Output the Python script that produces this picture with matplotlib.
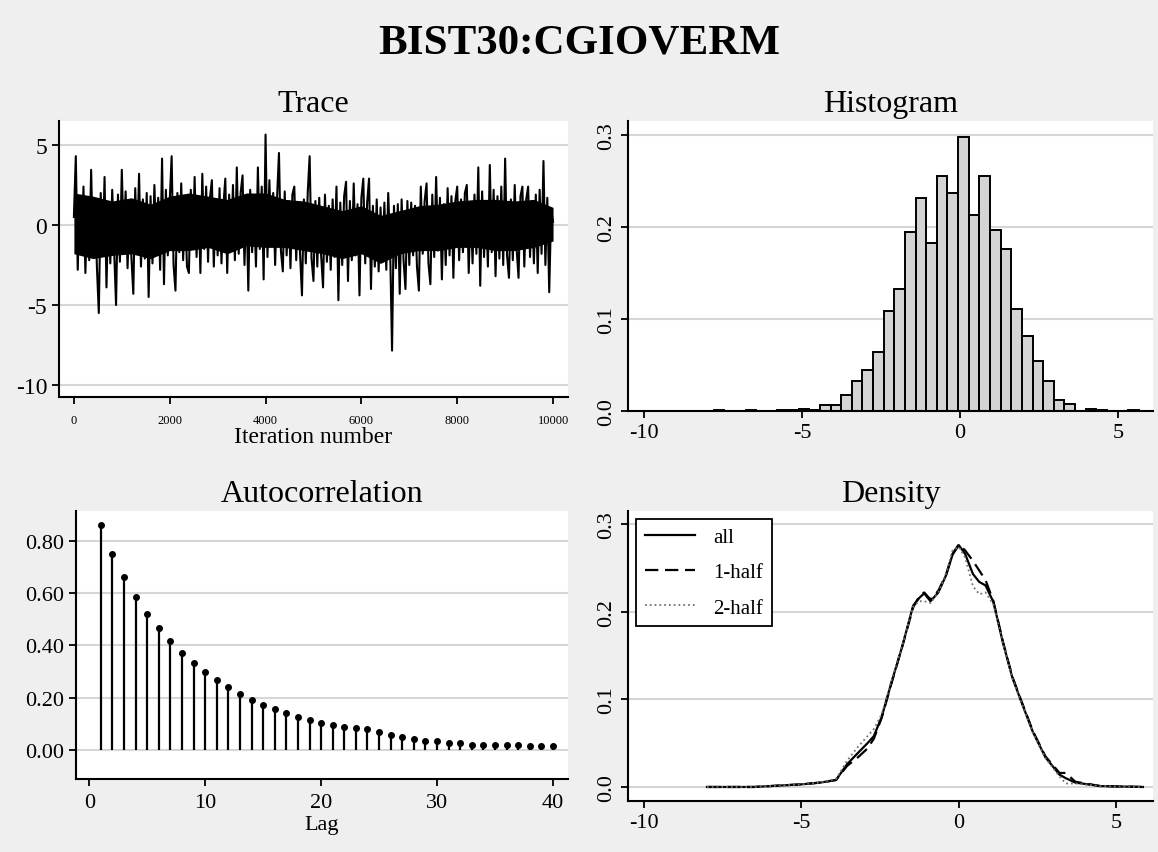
import numpy as np
import matplotlib
matplotlib.use("Agg")
import matplotlib.pyplot as plt

plt.rcParams['font.family'] = ['Liberation Serif', 'DejaVu Serif']
plt.rcParams['axes.unicode_minus'] = False

trace = [
    0.5, 4.3, -2.8, 1.8, -1.5, 2.4, -3.0, 1.2, -2.2, 3.45,
    -2.0, 1.5, -2.6, -5.5, 2.0, -1.8, 3.0, -3.9, 1.4, -2.4,
    2.2, -1.6, -5.0, 1.9, -2.3, 3.45, -1.2, 2.1, -2.7, 1.0,
    -2.0, -4.3, 2.3, -1.5, 3.2, -2.6, 1.6, -2.1, 2.0, -4.5,
    1.8, -2.4, 2.5, -1.3, 1.7, -2.8, 4.15, -3.7, 2.2, -1.9,
    1.5, 4.3, -2.5, -4.1, 2.0, -1.7, 2.6, -2.2, 1.3, -2.6,
    -3.0, 2.2, -1.4, 3.0, -2.0, 1.8, -3.0, 3.2, -1.5, 2.4,
    -2.3, 1.7, 2.8, -2.6, 1.5, -1.9, 2.3, -2.4, 1.2, 2.9,
    -3.0, 1.9, -1.6, 2.5, -2.2, 3.6, -1.8, 2.0, 3.1, -2.5,
    1.6, -4.1, 2.2, -1.7, 1.4, -2.6, 3.6, -1.5, 2.4, -3.4,
    5.65, -2.0, 2.8, -1.2, 2.0, -2.5, 1.7, 4.5, -1.6, -2.9,
    2.1, -1.9, 1.5, -2.7, 1.9, 2.4, -2.2, 1.3, -1.8, -4.4,
    1.6, -2.4, 2.0, 4.3, -2.1, -3.5, 1.5, -2.6, 1.7, -1.9,
    -3.9, 1.9, -2.3, 1.2, -2.8, 1.6, -2.0, 2.4, -4.7, 1.4,
    -2.5, 1.8, 2.7, -3.5, 1.5, -2.2, 2.6, -1.9, 1.3, -4.4,
    1.7, 2.9, -2.4, 1.4, 2.9, -4.0, 1.2, -2.6, 1.6, -2.9,
    1.1, -2.3, 1.4, -2.8, 2.0, -1.5, -7.85, 1.2, -2.7, 1.3,
    -4.3, 1.6, -2.2, -4.0, 1.5, -2.5, 1.4, -1.9, 1.2, -2.6,
    -4.1, 2.4, -1.8, 1.5, 2.6, -2.4, -3.7, 1.9, -2.0, 3.0,
    -1.6, 1.7, -3.4, 1.3, -2.5, 2.3, -1.9, 1.8, -3.3, 1.5,
    2.4, -2.2, 1.6, -1.7, 2.0, 2.5, -3.0, 1.4, -2.4, 1.9,
    -1.8, 3.6, -3.8, 2.1, -2.0, 1.5, -2.6, 3.75, -1.7, 2.2,
    -3.2, 1.8, -2.1, 2.4, -2.5, 4.15, -1.9, -3.3, 1.6, -2.2,
    2.5, -1.5, -3.3, 1.8, 2.4, -2.6, 1.6, 2.4, -2.0, 1.5,
    -2.4, 1.9, -3.0, 2.2, -1.8, 4.0, -2.5, 1.7, -4.2, 0.9,
    0.2,
]
n_iter = 10000

# dense core of the trace (every 400 iterations)
core_hi = [2.0, 1.8, 1.5, 1.7, 1.3, 1.8, 2.0, 1.8, 1.6, 2.0, 2.0, 1.6, 1.5,
           1.2, 0.9, 1.2, 0.6, 0.9, 1.2, 1.3, 1.5, 1.6, 1.6, 1.5, 1.6, 1.1]
core_lo = [-1.8, -2.1, -1.9, -1.8, -2.1, -1.6, -1.6, -1.4, -1.8, -1.3, -1.4,
           -1.4, -1.6, -1.8, -2.1, -1.8, -2.4, -1.8, -1.6, -1.6, -1.4, -1.4,
           -1.6, -1.6, -1.4, -1.0]

# --- histogram (40 bins) ---
hist_start = -7.79
hist_width = 0.336
hist_heights = [
    0.001, 0, 0, 0.001, 0, 0, 0.001, 0.001, 0.002, 0.001,
    0.006, 0.006, 0.017, 0.033, 0.045, 0.064, 0.109, 0.133, 0.194, 0.232,
    0.183, 0.255, 0.237, 0.298, 0.213, 0.255, 0.197, 0.176, 0.111, 0.081,
    0.054, 0.033, 0.012, 0.008, 0, 0.002, 0.001, 0, 0, 0.001,
]

# --- autocorrelation ---
lags = list(range(1, 41))
acf = [0.862, 0.750, 0.662, 0.586, 0.522, 0.466, 0.417, 0.372, 0.331, 0.299,
       0.269, 0.241, 0.215, 0.191, 0.172, 0.155, 0.139, 0.124, 0.115, 0.102,
       0.094, 0.089, 0.085, 0.079, 0.069, 0.057, 0.050, 0.043, 0.034, 0.032,
       0.025, 0.024, 0.019, 0.020, 0.019, 0.017, 0.017, 0.013, 0.014, 0.014]

# --- density curves ---
dens_x = [-8.0, -6.5, -5.0, -4.4, -3.9, -3.55, -3.2, -2.9, -2.7, -2.45,
          -2.15, -1.8, -1.45, -1.25, -1.1, -0.9, -0.65, -0.4, -0.2, 0.0,
          0.2, 0.45, 0.65, 0.85, 1.1, 1.4, 1.7, 2.0, 2.35, 2.75,
          3.2, 3.4, 3.7, 4.5, 5.85]
dens_all = [0.0, 0.0, 0.003, 0.005, 0.008, 0.026, 0.039, 0.05, 0.058, 0.08,
            0.118, 0.16, 0.207, 0.216, 0.221, 0.212, 0.222, 0.242, 0.265, 0.276,
            0.266, 0.243, 0.234, 0.23, 0.211, 0.165, 0.125, 0.096, 0.063, 0.034,
            0.014, 0.01, 0.005, 0.001, 0.0]
dens_half1 = [0.0, 0.0, 0.003, 0.005, 0.008, 0.024, 0.034, 0.044, 0.055, 0.079,
              0.117, 0.16, 0.205, 0.218, 0.222, 0.214, 0.224, 0.243, 0.266, 0.277,
              0.27, 0.258, 0.247, 0.236, 0.212, 0.166, 0.126, 0.097, 0.064, 0.035,
              0.016, 0.016, 0.006, 0.001, 0.0]
dens_half2 = [0.0, 0.0, 0.003, 0.005, 0.009, 0.03, 0.046, 0.058, 0.066, 0.083,
              0.12, 0.161, 0.206, 0.212, 0.212, 0.21, 0.222, 0.244, 0.27, 0.274,
              0.262, 0.229, 0.22, 0.222, 0.208, 0.164, 0.124, 0.095, 0.062, 0.033,
              0.012, 0.004, 0.004, 0.001, 0.0]

bg = '#efefef'
grid_c = '#d6d6d6'

fig = plt.figure(figsize=(11.58, 8.53), dpi=100, facecolor=bg)
fig.text(0.5, 1 - 44 / 853, 'BIST30:CGIOVERM', ha='center', va='center',
         fontsize=31, fontweight='bold')


def style(ax, title):
    ax.set_facecolor('white')
    for s in ['top', 'right']:
        ax.spines[s].set_visible(False)
    for s in ['left', 'bottom']:
        ax.spines[s].set_linewidth(1.5)
    ax.tick_params(direction='out', length=5, width=1.3, labelsize=16)
    ax.grid(axis='y', color=grid_c, lw=1.5)
    ax.set_axisbelow(True)
    ax.set_title(title, fontsize=23, pad=7)


# Trace
ax1 = fig.add_axes([0.0509, 0.5334, 0.4396, 0.3236])
style(ax1, 'Trace')
core_it = np.linspace(0, n_iter, len(core_hi))
ax1.fill_between(core_it, core_lo, core_hi, color='black', lw=0)
it = np.linspace(0, n_iter, len(trace))
ax1.plot(it, trace, color='black', lw=1.5)
ax1.set_xlim(-312, 10312)
ax1.set_ylim(-10.75, 6.5)
ax1.set_yticks([5, 0, -5, -10])
ax1.set_xticks([0, 2000, 4000, 6000, 8000, 10000])
ax1.tick_params(axis='x', labelsize=9, pad=7)
ax1.tick_params(axis='y', labelsize=17)
ax1.set_xlabel('Iteration number', fontsize=17, labelpad=0)

# Histogram
ax2 = fig.add_axes([0.5423, 0.517, 0.4534, 0.340])
style(ax2, 'Histogram')
edges = [hist_start + k * hist_width for k in range(len(hist_heights))]
ax2.bar(edges, hist_heights, width=hist_width, align='edge',
        color='#d4d4d4', edgecolor='black', lw=1.4)
ax2.set_xlim(-10.5, 6.1)
ax2.set_ylim(0, 0.3152)
ax2.set_xticks([-10, -5, 0, 5])
ax2.set_yticks([0.0, 0.1, 0.2, 0.3])
ax2.set_yticklabels(['0.0', '0.1', '0.2', '0.3'], rotation=90, va='center')

# Autocorrelation
ax3 = fig.add_axes([0.0656, 0.0856, 0.4249, 0.3142])
style(ax3, 'Autocorrelation')
ax3.vlines(lags, 0, acf, color='black', lw=1.6)
ax3.plot(lags, acf, 'o', color='black', ms=4)
ax3.set_xlim(-1.15, 41.3)
ax3.set_ylim(-0.112, 0.915)
ax3.set_xticks([0, 10, 20, 30, 40])
ax3.set_yticks([0.0, 0.2, 0.4, 0.6, 0.8])
ax3.set_yticklabels(['0.00', '0.20', '0.40', '0.60', '0.80'])
ax3.tick_params(axis='x', pad=5)
ax3.set_xlabel('Lag', fontsize=16, labelpad=2)

# Density
ax4 = fig.add_axes([0.5423, 0.0598, 0.4534, 0.340])
style(ax4, 'Density')
ax4.plot(dens_x, dens_all, color='black', lw=1.6, label='all')
ax4.plot(dens_x, dens_half1, color='black', lw=1.6, ls=(0, (6, 3)), label='1-half')
ax4.plot(dens_x, dens_half2, color='#7a6a7a', lw=1.3, ls=':', label='2-half')
ax4.set_xlim(-10.51, 6.17)
ax4.set_ylim(-0.016, 0.315)
ax4.set_xticks([-10, -5, 0, 5])
ax4.set_yticks([0.0, 0.1, 0.2, 0.3])
ax4.set_yticklabels(['0.0', '0.1', '0.2', '0.3'], rotation=90, va='center')
leg = ax4.legend(loc='upper left', fontsize=15, fancybox=False, framealpha=1,
                 edgecolor='black', handlelength=2.4, borderaxespad=0.4,
                 labelspacing=0.75, handletextpad=0.9)
leg.get_frame().set_linewidth(1.3)

fig.savefig('out.png', dpi=100, facecolor=bg)
